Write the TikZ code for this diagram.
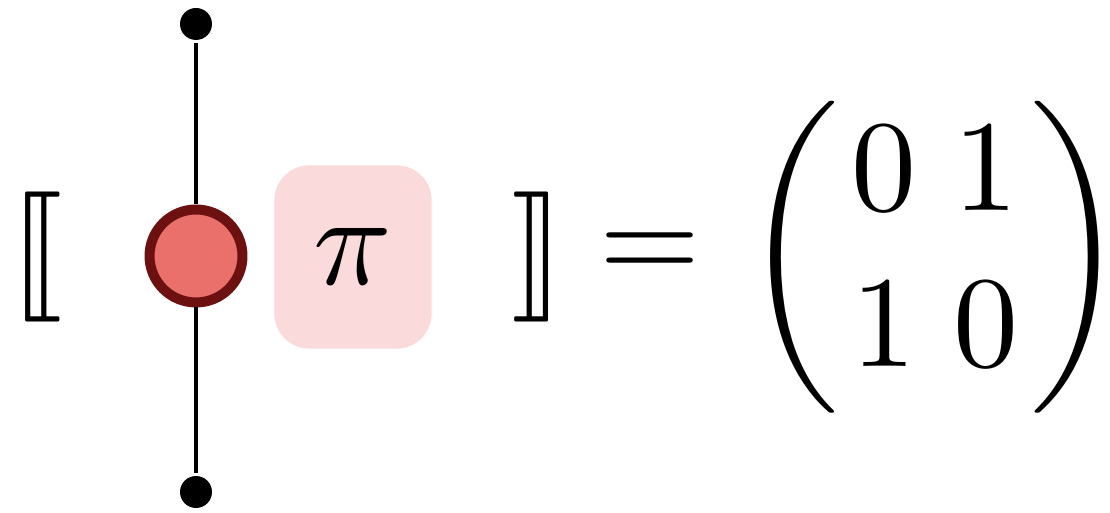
\documentclass[tikz,border=0pt]{standalone}
\usepackage{amsmath}
\usepackage{stmaryrd}
\definecolor{spiderfill}{RGB}{233,112,107}
\definecolor{spiderdraw}{RGB}{108,16,16}
\definecolor{phasefill}{RGB}{250,218,218}
\tikzset{
  wire/.style={line width=0.31pt, black},
  endpoint/.style={circle, fill=black, inner sep=0pt, outer sep=0.2pt, minimum size=2.46pt},
  spider/.style={circle, draw=spiderdraw, fill=spiderfill, line width=0.77pt, inner sep=0pt, minimum size=7.15pt},
  phasebox/.style={rounded corners=2.7pt, fill=phasefill, inner sep=0pt, minimum width=12.1pt, minimum height=14.1pt},
  txt/.style={inner sep=0pt, outer sep=0pt}
}
\begin{document}
\begin{tikzpicture}[x=0.07692pt,y=-0.07692pt]
\useasboundingbox (0,0) rectangle (1110,513);
\node[txt] (lb) at (37,257) {$\llbracket$};
\node[endpoint] (top) at (196,24) {};
\node[endpoint] (bot) at (196,492) {};
\node[spider] (sp) at (196,256) {};
\draw[wire] (top) -- (sp);
\draw[wire] (sp) -- (bot);
\node[phasebox] (ph) at (353,257) {$\pi$};
\node[txt] (rb) at (538,257) {$\rrbracket$};
\node[txt] (eq) at (650,257) {$=$};
\node[txt] (mat) at (935,257) {$\setlength\arraycolsep{1.45pt}\left(\kern0.9pt\begin{matrix}0&1\\1&0\end{matrix}\kern0.9pt\right)$};
\end{tikzpicture}
\end{document}
